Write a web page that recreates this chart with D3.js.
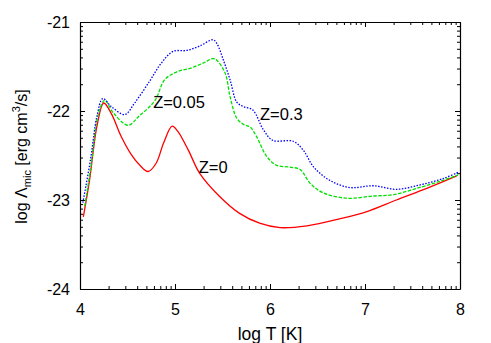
<!DOCTYPE html>
<html>
<head>
<meta charset="utf-8">
<script src="https://cdn.jsdelivr.net/npm/d3@7"></script>
<style>
  body { margin: 0; background: #fff; }
  svg text { font-family: "Liberation Sans", Arial, sans-serif; fill: #000; }
  .axis path, .axis line { stroke: #000; }
</style>
</head>
<body>
<div id="chart"></div>
<script>
// log T values and log Lambda values
const tZ0 = [4.035, 4.10, 4.18, 4.25, 4.33, 4.435, 4.54, 4.63, 4.716, 4.80, 4.88, 4.97, 5.03, 5.14, 5.26, 5.47, 5.68, 5.89, 6.105, 6.39, 6.74, 7.02, 7.33, 7.65, 7.965]
const lamZ0 = [-23.19, -22.78, -22.16, -21.91, -22.03, -22.29, -22.49, -22.61, -22.68, -22.59, -22.36, -22.17, -22.23, -22.44, -22.70, -22.96, -23.15, -23.26, -23.31, -23.29, -23.21, -23.13, -23.00, -22.87, -22.73]

const tZ005 = [4.05, 4.12, 4.19, 4.26, 4.35, 4.505, 4.62, 4.79, 4.89, 5.02, 5.16, 5.30, 5.40, 5.44, 5.53, 5.58, 5.65, 5.72, 5.79, 5.86, 5.965, 6.07, 6.21, 6.32, 6.42, 6.56, 6.81, 7.09, 7.30, 7.54, 7.79, 7.98]
const lamZ005 = [-23.07, -22.59, -22.05, -21.88, -22.02, -22.16, -22.06, -21.88, -21.65, -21.56, -21.52, -21.46, -21.41, -21.43, -21.58, -21.84, -22.08, -22.15, -22.18, -22.29, -22.51, -22.61, -22.63, -22.66, -22.81, -22.92, -22.98, -22.955, -22.94, -22.87, -22.79, -22.72]

const tZ03 = [4.03, 4.11, 4.18, 4.24, 4.33, 4.47, 4.575, 4.73, 4.85, 4.98, 5.12, 5.26, 5.40, 5.44, 5.51, 5.58, 5.65, 5.72, 5.82, 5.93, 6.03, 6.245, 6.35, 6.46, 6.63, 6.84, 7.09, 7.33, 7.58, 7.82, 7.98]
const lamZ03 = [-23.03, -22.55, -22.05, -21.86, -21.95, -22.04, -21.91, -21.67, -21.47, -21.33, -21.32, -21.27, -21.20, -21.24, -21.43, -21.65, -21.90, -21.95, -21.99, -22.21, -22.33, -22.34, -22.44, -22.63, -22.78, -22.86, -22.84, -22.88, -22.83, -22.76, -22.69]

const xTicks = [4, 5, 6, 7, 8]
const yTicks = [-24, -23, -22, -21]

const seriesNames = ["Z=0", "Z=0.05", "Z=0.3"]
const seriesColors = ["#ff0000", "#00e000", "#0000ff"]

const width = 491
const height = 343
const margin = { top: 22, right: 31, bottom: 54, left: 80 }

const svg = d3.select("#chart").append("svg")
    .attr("width", width)
    .attr("height", height)

const x = d3.scaleLinear().domain([4, 8]).range([margin.left, width - margin.right])
const y = d3.scaleLinear().domain([-24, -21]).range([height - margin.bottom, margin.top])

// minor ticks at log10(k) inside every decade
const minorX = []
for (let d = 4; d < 8; d++) for (let k = 2; k <= 9; k++) minorX.push(d + Math.log10(k))
const minorY = []
for (let d = -24; d < -21; d++) for (let k = 2; k <= 9; k++) minorY.push(d + Math.log10(k))

const x0 = margin.left, x1 = width - margin.right
const y0 = height - margin.bottom, y1 = margin.top

function drawAxis(axisFn, scale, major, minor, tx, ty, labels) {
    const g = svg.append("g").attr("class", "axis").attr("transform", `translate(${tx},${ty})`)
    g.call(axisFn(scale).tickValues(minor).tickSize(-3).tickFormat(""))
    const g2 = svg.append("g").attr("class", "axis").attr("transform", `translate(${tx},${ty})`)
    g2.call(axisFn(scale).tickValues(major).tickSize(-5).tickSizeOuter(0)
        .tickFormat(labels ? d3.format("d") : ""))
    g.select(".domain").remove()
    g2.select(".domain").attr("stroke-width", 1.2)
    g2.selectAll("text").attr("font-size", 16)
    return g2
}

const bottom = drawAxis(d3.axisBottom, x, xTicks, minorX, 0, y0, true)
bottom.selectAll("text").attr("y", 26).attr("dy", 0)
drawAxis(d3.axisTop, x, xTicks, minorX, 0, y1, false)
const left = drawAxis(d3.axisLeft, y, yTicks, minorY, x0, 0, true)
left.selectAll("text").attr("x", -10).text(d => d3.format("d")(d).replace("−", "-"))
drawAxis(d3.axisRight, y, yTicks, minorY, x1, 0, false)

// curves
const line = d3.line()
    .x(d => x(d[0]))
    .y(d => y(d[1]))
    .curve(d3.curveCatmullRom)

const series = [
    { t: tZ0, v: lamZ0, dash: null },
    { t: tZ005, v: lamZ005, dash: "3.5,1.5" },
    { t: tZ03, v: lamZ03, dash: "1.5,1.5" }
]

series.forEach((s, i) => {
    svg.append("path")
        .datum(d3.zip(s.t, s.v))
        .attr("fill", "none")
        .attr("stroke", seriesColors[i])
        .attr("stroke-width", 1.3)
        .attr("stroke-dasharray", s.dash)
        .attr("d", line)
})

// curve labels
const labelPos = [[5.25, -22.70], [4.77, -21.97], [5.895, -22.10]]
seriesNames.forEach((n, i) => {
    svg.append("text")
        .attr("x", x(labelPos[i][0]))
        .attr("y", y(labelPos[i][1]))
        .attr("font-size", 16.5)
        .text(n)
})

// axis titles
svg.append("text")
    .attr("x", 270)
    .attr("y", 340)
    .attr("text-anchor", "middle")
    .attr("font-size", 17.5)
    .text("log T [K]")

const yl = svg.append("text")
    .attr("transform", `translate(27,${(y0 + y1) / 2 + 1}) rotate(-90)`)
    .attr("text-anchor", "middle")
    .attr("font-size", 16)
yl.append("tspan").text("log Λ")
yl.append("tspan").attr("font-size", 11).attr("dy", 4).text("mic")
yl.append("tspan").attr("dy", -4).text(" [erg cm")
yl.append("tspan").attr("font-size", 11).attr("dy", -7).text("3")
yl.append("tspan").attr("dy", 7).text("/s]")
</script>
</body>
</html>
